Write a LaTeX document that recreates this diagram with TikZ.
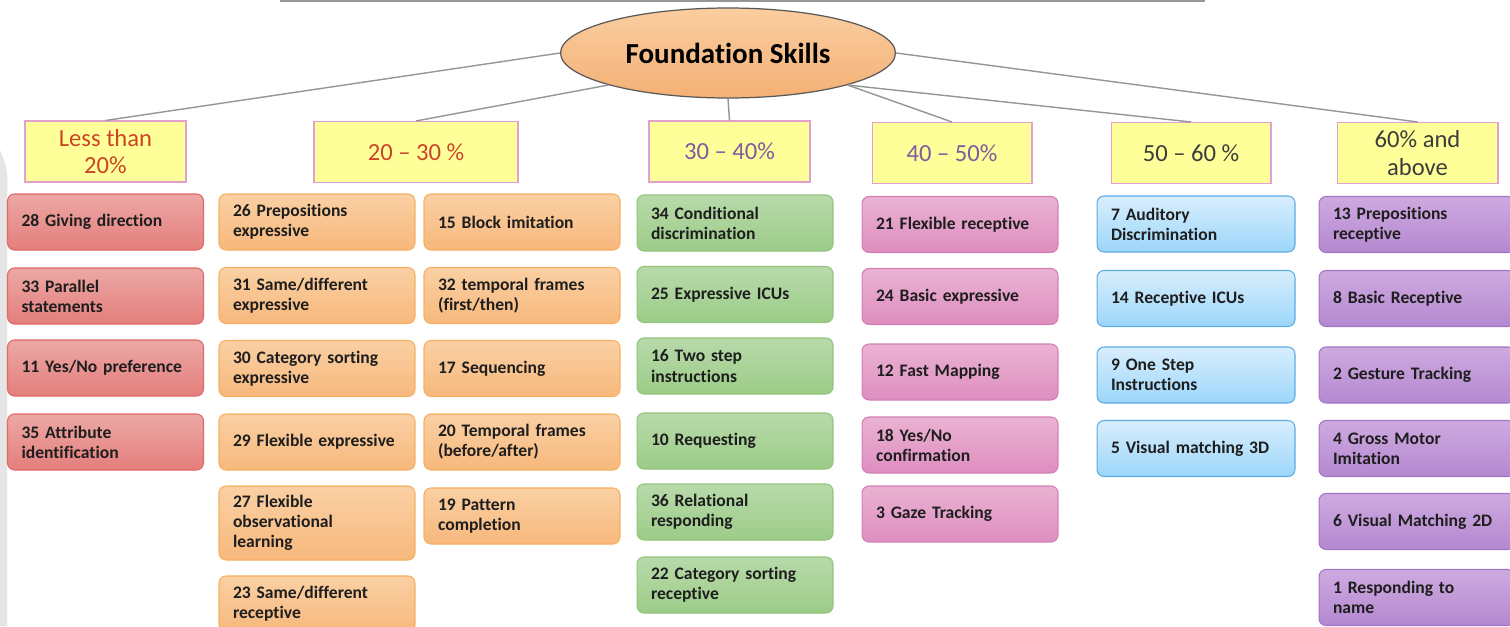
\documentclass[tikz,border=0pt]{standalone}
\usepackage{fontspec}
\setmainfont{Carlito}[Ligatures=NoCommon]
\usetikzlibrary{shapes.geometric}

\definecolor{linkgray}{RGB}{150,150,150}
\definecolor{headfill}{RGB}{255,255,153}
\definecolor{headline}{RGB}{226,160,206}
\definecolor{headred}{RGB}{204,68,38}
\definecolor{headviolet}{RGB}{125,92,160}
\definecolor{headdark}{RGB}{60,60,60}
\definecolor{ovaltop}{RGB}{250,206,160}
\definecolor{ovalbot}{RGB}{244,176,118}
\definecolor{redtop}{RGB}{236,168,165}
\definecolor{redbot}{RGB}{228,126,124}
\definecolor{redline}{RGB}{222,104,102}
\definecolor{orangetop}{RGB}{250,208,164}
\definecolor{orangebot}{RGB}{247,184,124}
\definecolor{orangeline}{RGB}{246,176,96}
\definecolor{greentop}{RGB}{184,218,170}
\definecolor{greenbot}{RGB}{156,204,136}
\definecolor{greenline}{RGB}{146,196,124}
\definecolor{pinktop}{RGB}{234,178,210}
\definecolor{pinkbot}{RGB}{222,142,192}
\definecolor{pinkline}{RGB}{210,128,180}
\definecolor{bluetop}{RGB}{216,238,253}
\definecolor{bluebot}{RGB}{156,214,250}
\definecolor{blueline}{RGB}{92,172,228}
\definecolor{violettop}{RGB}{206,170,224}
\definecolor{violetbot}{RGB}{180,136,208}
\definecolor{violetline}{RGB}{164,116,196}
\definecolor{skilltext}{RGB}{30,30,30}

\tikzset{
  link/.style={draw=linkgray, line width=0.8pt},
  head/.style={draw=headline, fill=headfill, line width=0.6pt, minimum width=3.22cm,
    minimum height=1.22cm, inner sep=0pt, align=center, font=\fontsize{14}{15.5}\selectfont},
  skill/.style={rounded corners=4pt, line width=0.6pt, minimum height=1.12cm,
    text width=3.36cm, inner xsep=0.28cm, inner ysep=0pt, align=left,
    text=skilltext, font=\bfseries\fontsize{10}{11.5}\selectfont},
  redbox/.style={skill, draw=redline, top color=redtop, bottom color=redbot},
  orangebox/.style={skill, draw=orangeline, top color=orangetop, bottom color=orangebot},
  greenbox/.style={skill, draw=greenline, top color=greentop, bottom color=greenbot},
  pinkbox/.style={skill, draw=pinkline, top color=pinktop, bottom color=pinkbot},
  bluebox/.style={skill, draw=blueline, top color=bluetop, bottom color=bluebot},
  violetbox/.style={skill, draw=violetline, top color=violettop, bottom color=violetbot}
}

\begin{document}
\begin{tikzpicture}[x=0.02cm, y=-0.02cm]
\clip (0,0) rectangle (1510,626);
\fill[white] (0,0) rectangle (1510,626);
\draw[linkgray, line width=0.6pt] (280,1) -- (1205,1);
\fill[black!10] (0,150) .. controls (8,170) .. (7,200) -- (7,626) -- (0,626) -- cycle;

\node[ellipse, draw=black!65, line width=0.7pt, top color=ovaltop, bottom color=ovalbot,
  minimum width=6.7cm, minimum height=1.8cm, inner sep=0pt,
  font=\bfseries\fontsize{16.5}{19}\selectfont] (fs) at (728,53) {Foundation Skills};

\node[head, text=headred] (h1) at (105.5,151.5) {Less than\\20\%};
\node[head, text=headred, minimum width=4.08cm] (h2) at (416,152) {20 -- 30 \%};
\node[head, text=headviolet] (h3) at (729.5,151.5) {30 -- 40\%};
\node[head, text=headviolet, minimum width=3.2cm] (h4) at (952,153) {40 -- 50\%};
\node[head, text=headdark, minimum width=3.2cm] (h5) at (1191,153) {50 -- 60 \%};
\node[head, text=headdark] (h6) at (1417.5,153) {60\% and\\above};

\draw[link] (fs.west) -- (h1.north);
\draw[link] (fs.195) -- (h2.north);
\draw[link] (fs.south) -- (h3.north);
\draw[link] (fs.345) -- (h4.north);
\draw[link] (fs.345) -- (h5.north);
\draw[link] (fs.east) -- (h6.north);

\node[redbox] (r1) at (105.5,222) {28 Giving direction};
\node[redbox] (r2) at (105.5,296) {33 Parallel\\statements};
\node[redbox] (r3) at (105.5,368) {11 Yes/No preference};
\node[redbox] (r4) at (105.5,442) {35 Attribute\\identification};

\node[orangebox] (oa1) at (317,222) {26 Prepositions\\expressive};
\node[orangebox] (oa2) at (317,295.5) {31 Same/different\\expressive};
\node[orangebox] (oa3) at (317,368.5) {30 Category sorting\\expressive};
\node[orangebox] (oa4) at (317,442) {29 Flexible expressive};
\node[orangebox, minimum height=1.48cm] (oa5) at (317,523) {27 Flexible\\observational\\learning};
\node[orangebox] (oa6) at (317,604) {23 Same/different\\receptive};

\node[orangebox] (ob1) at (522,222) {15 Block imitation};
\node[orangebox] (ob2) at (522,295.5) {32 temporal frames\\(first/then)};
\node[orangebox] (ob3) at (522,368.5) {17 Sequencing};
\node[orangebox] (ob4) at (522,442) {20 Temporal frames\\(before/after)};
\node[orangebox] (ob5) at (522,516) {19 Pattern\\completion};

\node[greenbox] (g1) at (735,223) {34 Conditional\\discrimination};
\node[greenbox] (g2) at (735,294.5) {25 Expressive ICUs};
\node[greenbox] (g3) at (735,366) {16 Two step\\instructions};
\node[greenbox] (g4) at (735,441) {10 Requesting};
\node[greenbox] (g5) at (735,512) {36 Relational\\responding};
\node[greenbox] (g6) at (735,585) {22 Category sorting\\receptive};

\node[pinkbox] (p1) at (960,224.5) {21 Flexible receptive};
\node[pinkbox] (p2) at (960,296.5) {24 Basic expressive};
\node[pinkbox] (p3) at (960,372) {12 Fast Mapping};
\node[pinkbox] (p4) at (960,445) {18 Yes/No\\confirmation};
\node[pinkbox] (p5) at (960,514) {3 Gaze Tracking};

\node[bluebox, text width=3.4cm] (b1) at (1196,224) {7 Auditory\\Discrimination};
\node[bluebox, text width=3.4cm] (b2) at (1196,298.5) {14 Receptive ICUs};
\node[bluebox, text width=3.4cm] (b3) at (1196,375) {9 One Step\\Instructions};
\node[bluebox, text width=3.4cm] (b4) at (1196,448.5) {5 Visual matching 3D};

\node[violetbox] (v1) at (1417,224.5) {13 Prepositions\\receptive};
\node[violetbox] (v2) at (1417,298.5) {8 Basic Receptive};
\node[violetbox] (v3) at (1417,375) {2 Gesture Tracking};
\node[violetbox] (v4) at (1417,448.5) {4 Gross Motor\\Imitation};
\node[violetbox] (v5) at (1417,521.5) {6 Visual Matching 2D};
\node[violetbox] (v6) at (1417,597.5) {1 Responding to\\name};
\end{tikzpicture}
\end{document}
